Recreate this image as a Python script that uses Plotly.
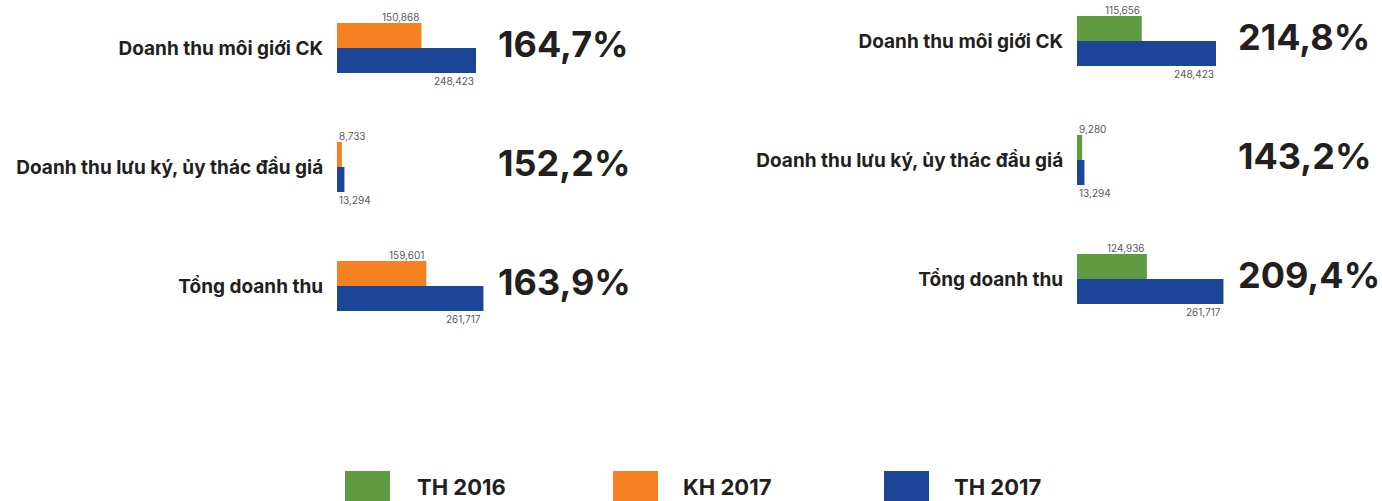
import plotly.graph_objects as go

# ---------------- data ----------------
categories = ["Doanh thu môi giới CK", "Doanh thu lưu ký, ủy thác đầu giá", "Tổng doanh thu"]
th2016 = [115656, 9280, 124936]
kh2017 = [150868, 8733, 159601]
th2017 = [248423, 13294, 261717]
pct_vs_plan = ["164,7%", "152,2%", "163,9%"]
pct_vs_2016 = ["214,8%", "143,2%", "209,4%"]
series_names = ["TH 2016", "KH 2017", "TH 2017"]

# ---------------- style ----------------
W, H = 1382, 501
GREEN, ORANGE, BLUE = "#5F9B41", "#F58220", "#1D4597"
DARK = "#231F20"
GREY = "#58595B"
FONT = "Inter"
colors = {"TH 2016": GREEN, "KH 2017": ORANGE, "TH 2017": BLUE}

XMAX = 153 * 248423 / 139
left_dom = [337 / W, 490 / W]
right_dom = [1077 / W, 1230 / W]
STEP = 119.0  # px per category


def yrange(first_center_px):
    return [(H - first_center_px) / STEP, -first_center_px / STEP]


fig = go.Figure()

panels = [
    ("x", "y", [("KH 2017", kh2017), ("TH 2017", th2017)], pct_vs_plan, left_dom, 48),
    ("x2", "y2", [("TH 2016", th2016), ("TH 2017", th2017)], pct_vs_2016, right_dom, 41),
]

annotations = []
for xa, ya, series, pcts, dom, c0 in panels:
    for i, (name, vals) in enumerate(series):
        fig.add_trace(go.Bar(
            x=vals, y=categories, orientation="h", name=name,
            marker=dict(color=colors[name], line=dict(width=0)),
            xaxis=xa, yaxis=ya, showlegend=False, hoverinfo="x+y",
        ))
        shift = 31 if i == 0 else -33
        for cat, v in zip(categories, vals):
            bar_px = v / XMAX * (dom[1] - dom[0]) * W
            small = bar_px < 45
            annotations.append(dict(
                xref=xa, yref=ya, x=0 if small else v, y=cat,
                xanchor="left" if small else "right", yanchor="middle",
                yshift=shift, showarrow=False, text=f"{v:,}",
                font=dict(family=FONT, size=10, color=GREY),
            ))
    for cat, p in zip(categories, pcts):
        annotations.append(dict(
            xref="paper", yref=ya, x=dom[1] + 6 / W, y=cat,
            xanchor="left", yanchor="middle", yshift=4, showarrow=False,
            text=p, font=dict(family=FONT, size=36, color=DARK, weight=700),
        ))

# legend (drawn in paper space)
shapes = []
leg_sq_x = [345, 613, 884]
leg_txt_x = [415, 681, 952]
for name, sx, tx in zip(series_names, leg_sq_x, leg_txt_x):
    shapes.append(dict(type="rect", xref="paper", yref="paper",
                       x0=sx / W, x1=(sx + 45) / W, y0=-0.02, y1=(H - 471) / H,
                       fillcolor=colors[name], line=dict(width=0)))
    annotations.append(dict(xref="paper", yref="paper", x=tx / W, y=(H - 487) / H,
                            xanchor="left", yanchor="middle", showarrow=False,
                            text=name, font=dict(family=FONT, size=22, color=DARK, weight=700)))

yax_common = dict(
    type="category", categoryorder="array", categoryarray=categories,
    showgrid=False, zeroline=False, showline=False,
    ticks="outside", ticklen=9, tickcolor="rgba(0,0,0,0)",
    tickfont=dict(family=FONT, size=19, color=DARK, weight=700),
    fixedrange=True,
)
xax_common = dict(visible=False, range=[0, XMAX], fixedrange=True)

fig.update_layout(
    width=W, height=H,
    margin=dict(l=0, r=0, t=0, b=0),
    paper_bgcolor="white", plot_bgcolor="rgba(0,0,0,0)",
    barmode="group", bargap=0.58, bargroupgap=0,
    xaxis=dict(domain=left_dom, anchor="y", **xax_common),
    xaxis2=dict(domain=right_dom, anchor="y2", **xax_common),
    yaxis=dict(domain=[0, 1], anchor="x", range=yrange(48), **yax_common),
    yaxis2=dict(domain=[0, 1], anchor="x2", range=yrange(41), **yax_common),
    annotations=annotations, shapes=shapes,
    showlegend=False,
)

fig.write_html(
    "out.html",
    config={"displayModeBar": False},
    post_script="document.body.style.margin='0';document.body.style.overflow='hidden';",
)
